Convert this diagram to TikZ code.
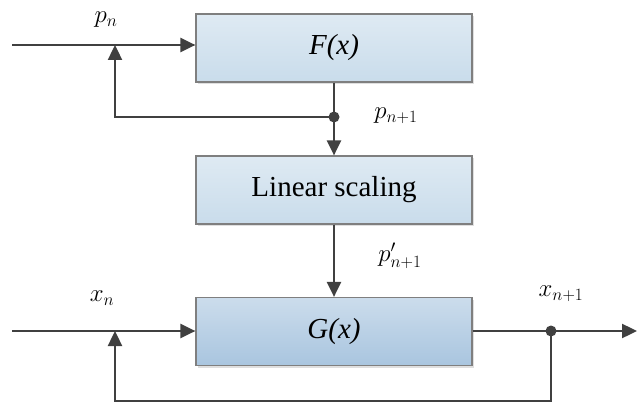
\documentclass[tikz,border=0pt]{standalone}
\usepackage{fontspec}
\setmainfont{Liberation Serif}
\usetikzlibrary{arrows.meta,shadows}
\definecolor{ln}{HTML}{404040}
\definecolor{bx}{HTML}{7F7F7F}
\tikzset{
  blk/.style={draw=bx, line width=1.2pt, minimum width=276pt, minimum height=68pt, inner sep=0pt,
    top color=#1!60!white, bottom color=#1, drop shadow={shadow xshift=2pt,shadow yshift=-2pt,opacity=0.25},
    font=\fontsize{29}{32}\selectfont},
  wire/.style={draw=ln, line width=2.4pt},
  arr/.style={wire, -{Triangle[length=15pt,width=14pt]}},
  dot/.style={circle, fill=ln, inner sep=0pt, minimum size=11pt},
  lab/.style={font=\fontsize{26}{30}\selectfont}
}
\definecolor{cf}{HTML}{C9DCEB}
\definecolor{cg}{HTML}{A9C5DF}
\begin{document}
\begin{tikzpicture}[x=1pt,y=-1pt]
\useasboundingbox (0,0) rectangle (637,404);
\node[blk=cf] (F) at (334,48) {\textit{F(x)}};
\node[blk=cf] (L) at (334,190) {Linear scaling};
\node[blk=cg] (G) at (334,331.5) {\textit{G(x)}};
% top loop
\coordinate (pin) at (12,45);
\coordinate (pj) at (115,45);
\node[dot] (pd) at (334,117) {};
\draw[arr] (pin) -- (pin -| F.west);
\draw[arr] (pd.center) -| (pj);
\draw[wire] (F.south) -- (pd.center);
\draw[arr] (pd.center) -- (L.north);
\draw[arr] (L.south) -- (G.north);
% bottom loop
\coordinate (xin) at (12,331);
\coordinate (xj) at (115,331);
\coordinate (xb) at (551,401);
\node[dot] (xd) at (551,331) {};
\coordinate (xout) at (637,331);
\draw[arr] (xin) -- (xin -| G.west);
\draw[wire] (G.east |- xd) -- (xd.center);
\draw[arr] (xd.center) -- (xout);
\draw[arr] (xd.center) -- (xb) -| (xj);
% labels
\node[lab] (lpn) at (106,20) {$p_n$};
\node[lab] (lpn1) at (396,116) {$p_{n+1}$};
\node[lab] (lpp) at (400,256) {$p'_{n+1}$};
\node[lab] (lxn) at (102,298) {$x_n$};
\node[lab] (lxn1) at (561,294) {$x_{n+1}$};
\end{tikzpicture}
\end{document}
